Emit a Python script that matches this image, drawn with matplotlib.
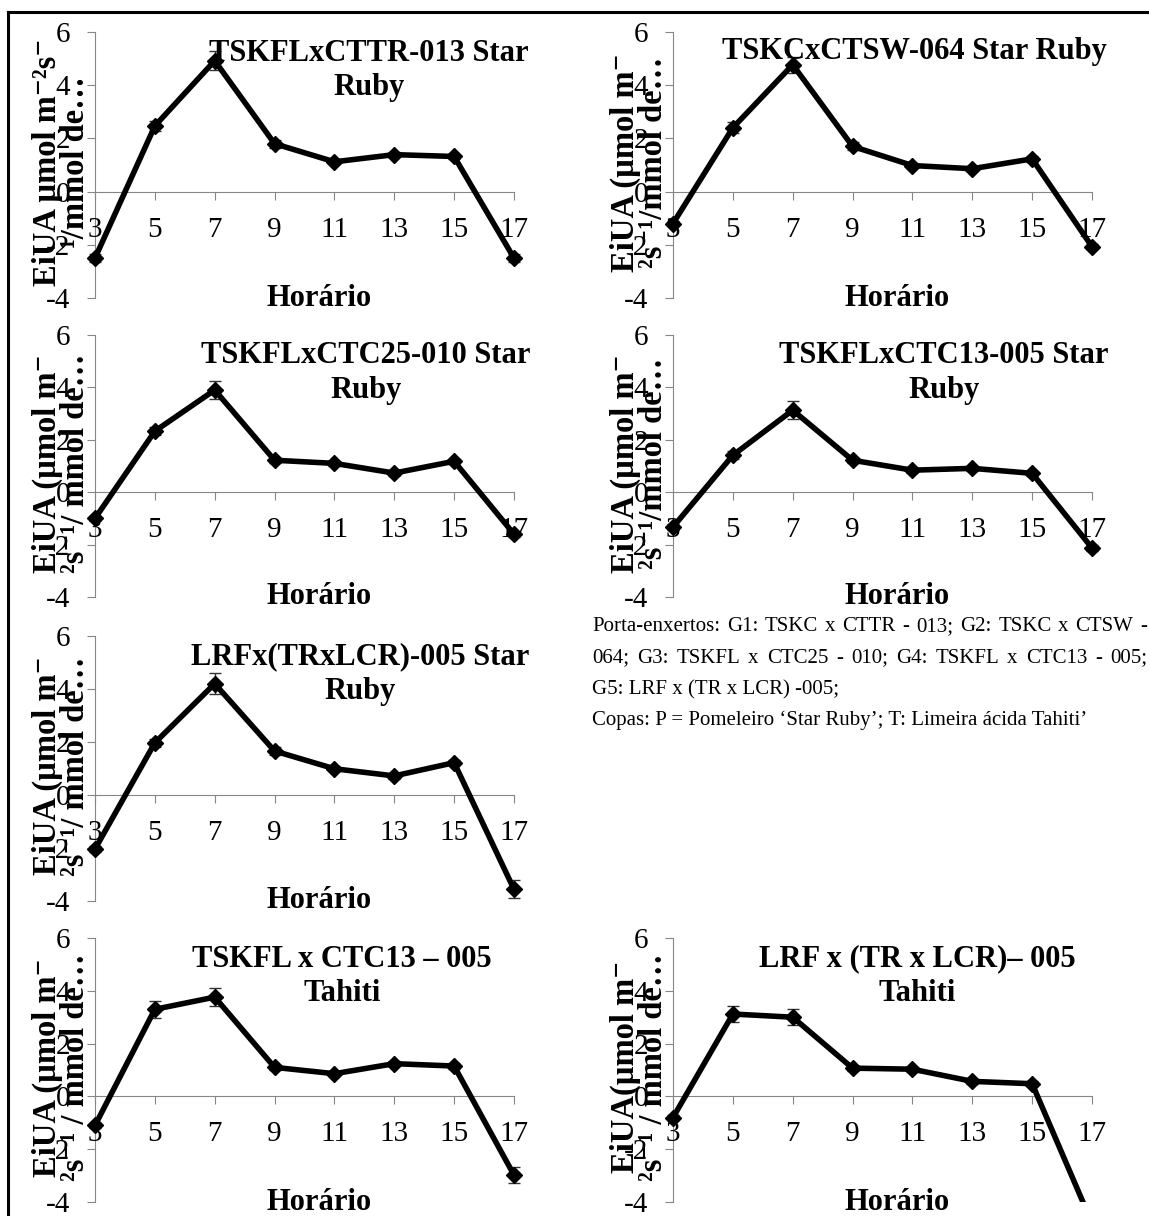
import matplotlib
matplotlib.use("Agg")
import matplotlib.pyplot as plt
from matplotlib.lines import Line2D
from matplotlib.patches import Rectangle

plt.rcParams['font.family'] = ['Liberation Serif', 'DejaVu Serif']

# horarios de medicao
horas = [3, 5, 7, 9, 11, 13, 15, 17]

# EiUA medias por combinacao
g1_p = [-2.5, 2.47, 4.92, 1.8, 1.12, 1.39, 1.32, -2.5]
g2_p = [-1.2, 2.4, 4.77, 1.7, 0.98, 0.86, 1.23, -2.07]
g3_p = [-1.0, 2.33, 3.9, 1.22, 1.1, 0.73, 1.18, -1.6]
g4_p = [-1.33, 1.41, 3.13, 1.22, 0.84, 0.91, 0.72, -2.13]
g5_p = [-2.04, 1.97, 4.2, 1.66, 0.99, 0.72, 1.22, -3.56]
g4_t = [-1.1, 3.3, 3.76, 1.1, 0.86, 1.24, 1.15, -2.98]
g5_t = [-0.8, 3.12, 3.0, 1.07, 1.03, 0.57, 0.48, -4.8]

# erro padrao
e1_p = [0.15, 0.2, 0.35, 0.15, 0.1, 0.1, 0.1, 0.15]
e2_p = [0.1, 0.2, 0.3, 0.15, 0.1, 0.1, 0.1, 0.1]
e3_p = [0.1, 0.15, 0.35, 0.1, 0.1, 0.1, 0.1, 0.1]
e4_p = [0.1, 0.15, 0.34, 0.1, 0.1, 0.1, 0.1, 0.1]
e5_p = [0.1, 0.15, 0.4, 0.15, 0.1, 0.1, 0.1, 0.34]
e4_t = [0.1, 0.33, 0.33, 0.1, 0.1, 0.1, 0.1, 0.3]
e5_t = [0.1, 0.3, 0.3, 0.1, 0.1, 0.1, 0.1, 0.1]

titulos = [
    "TSKFLxCTTR-013 Star\nRuby",
    "TSKCxCTSW-064 Star Ruby",
    "TSKFLxCTC25-010 Star\nRuby",
    "TSKFLxCTC13-005 Star\nRuby",
    "LRFx(TRxLCR)-005 Star\nRuby",
    "TSKFL x CTC13 \u2013 005\nTahiti",
    "LRF x (TR x LCR)\u2013 005\nTahiti",
]
ylabels = [
    "EiUA \u00b5mol m\u207b\u00b2s\u207b\n\u00b9/mmol de\u2026",
    "EiUA (\u00b5mol m\u207b\n\u00b2s\u207b\u00b9/mmol de\u2026",
    "EiUA (\u00b5mol m\u207b\n\u00b2s\u207b\u00b9/ mmol de\u2026",
    "EiUA (\u00b5mol m\u207b\n\u00b2s\u207b\u00b9/mmol de\u2026",
    "EiUA (\u00b5mol m\u207b\n\u00b2s\u207b\u00b9/ mmol de\u2026",
    "EiUA (\u00b5mol m\u207b\n\u00b2s\u207b\u00b9 / mmol de\u2026",
    "EiUA(\u00b5mol m\u207b\n\u00b2s\u207b\u00b9 / mmol de\u2026",
]
series = [g1_p, g2_p, g3_p, g4_p, g5_p, g4_t, g5_t]
erros = [e1_p, e2_p, e3_p, e4_p, e5_p, e4_t, e5_t]
title_x = [0.654, 0.575, 0.647, 0.646, 0.632, 0.59, 0.582]

nota = [
    "Porta-enxertos: G1: TSKC x CTTR - 013; G2: TSKC x CTSW -",
    "064; G3: TSKFL x CTC25 - 010; G4: TSKFL x CTC13 - 005;",
    "G5: LRF x (TR x LCR) -005;",
    "Copas: P = Pomeleiro \u2018Star Ruby\u2019; T: Limeira \u00e1cida Tahiti\u2019",
]

W, H = 1149, 1216
fig = plt.figure(figsize=(W / 100, H / 100), dpi=100)

# posicoes em pixels (x0, x1, ytop, ybottom)
cols = [(95, 514), (673, 1092)]
rows = [(32, 298), (335, 597), (636, 901), (938, 1202)]
slots = [(0, 0), (0, 1), (1, 0), (1, 1), (2, 0), (3, 0), (3, 1)]

gray = '#868686'
for i, (r, c) in enumerate(slots):
    x0, x1 = cols[c]
    yt, yb = rows[r]
    ax = fig.add_axes([x0 / W, 1 - yb / H, (x1 - x0) / W, (yb - yt) / H])
    ax.set_xlim(3, 17)
    ax.set_ylim(-4, 6)
    ax.set_xticks(horas)
    ax.set_yticks([-4, -2, 0, 2, 4, 6])
    ax.set_yticklabels(['-4', '-2', '0', '2', '4', '6'])
    for s in ['top', 'right']:
        ax.spines[s].set_visible(False)
    ax.spines['bottom'].set_position(('data', 0))
    ax.spines['bottom'].set_color(gray)
    ax.spines['left'].set_color(gray)
    ax.spines['bottom'].set_zorder(1)
    ax.spines['left'].set_zorder(1)
    ax.tick_params(axis='x', direction='out', length=6, color=gray, labelsize=21, pad=12)
    ax.tick_params(axis='y', direction='out', length=6, color=gray, labelsize=21, pad=12)
    ax.patch.set_visible(False)

    clip = Rectangle((-0.1, 0), 1.2, 1, transform=ax.transAxes, visible=False)
    ax.add_patch(clip)
    eb = ax.errorbar(horas, series[i], yerr=erros[i], fmt='none', ecolor='#333333',
                     elinewidth=1, capsize=4, capthick=1, zorder=2)
    for art in eb.lines[1] + eb.lines[2]:
        art.set_clip_path(clip)
    ln, = ax.plot(horas, series[i], color='black', lw=4, marker='D', ms=8.5, zorder=3)
    ln.set_clip_path(clip)

    ax.text(title_x[i], 0.925 if '\n' not in titulos[i] else 0.855, titulos[i],
            transform=ax.transAxes, ha='center', va='center', fontsize=22,
            fontweight='bold', linespacing=1.25)
    ax.text(0.535, 0.0, "Hor\u00e1rio", transform=ax.transAxes, ha='center',
            va='center', fontsize=22, fontweight='bold')
    ax.text(-0.08, 0.51, ylabels[i], transform=ax.transAxes, rotation=90,
            ha='center', va='center', fontsize=23.5, fontweight='bold',
            linespacing=0.9)

# nota de rodape (duas primeiras linhas justificadas)
renderer = fig.canvas.get_renderer()
x_ini, x_fim = 592, 1147
for k, linha in enumerate(nota):
    y = 1 - (631 + 31.5 * k) / H
    if k < 2:
        palavras = linha.split(' ')
        textos = [fig.text(0, y, p, ha='left', va='baseline', fontsize=15) for p in palavras]
        larg = [t.get_window_extent(renderer).width for t in textos]
        gap = (x_fim - x_ini - sum(larg)) / (len(palavras) - 1)
        xp = x_ini
        for t, w in zip(textos, larg):
            t.set_x(xp / W)
            xp += w + gap
    else:
        fig.text(x_ini / W, y, linha, ha='left', va='baseline', fontsize=15)

# moldura
fig.add_artist(Line2D([8 / W, 1], [1 - 12 / H, 1 - 12 / H], color='black', lw=2.2))
fig.add_artist(Line2D([8 / W, 8 / W], [1 - 12 / H, 0], color='black', lw=2.2))

fig.savefig('out.png', dpi=100)
